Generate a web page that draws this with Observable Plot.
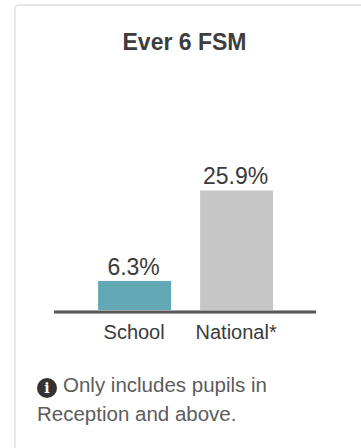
<!DOCTYPE html>
<html><head><meta charset="utf-8">
<script src="https://cdn.jsdelivr.net/npm/d3@7"></script>
<script src="https://cdn.jsdelivr.net/npm/@observablehq/plot@0.6"></script>
<style>
html,body{margin:0;padding:0;background:#fff;overflow:hidden;width:361px;height:448px;font-family:"Liberation Sans",Arial,sans-serif}
#card{position:absolute;left:14px;top:4px;width:420px;height:520px;border:2px solid #e7e7e7;border-radius:5px;box-sizing:border-box}
#title{position:absolute;left:4px;top:30px;width:361px;text-align:center;font-size:23px;font-weight:700;color:#3d3d3d;line-height:24px}
#plot{position:absolute;left:0;top:150px}
#note{position:absolute;left:37px;top:370px;width:290px;font-size:20.5px;line-height:29px;color:#5c5c5c;white-space:nowrap}
#note .i{display:inline-block;position:relative;top:-1px;width:20px;height:20px;border-radius:50%;background:#333;color:#fff;font:700 14px/20px "DejaVu Serif",serif;text-align:center;vertical-align:-2px;margin-right:6px}
svg text{font-family:"Liberation Sans",Arial,sans-serif}
</style></head><body>
<div id="card"></div>
<div id="title">Ever 6 FSM</div>
<div id="plot"></div>
<div id="note"><span class="i">i</span>Only includes pupils in<br>Reception and above.</div>
<script>
const categories = ["School", "National*"];
const values = [6.3, 25.9];
const colors = ["#62a8b5", "#c6c6c6"];
const valueLabels = ["6.3%", "25.9%"];
const rows = categories.map((c, i) => ({c, v: values[i], col: colors[i], label: valueLabels[i]}));
const chart = Plot.plot({
  width: 361, height: 205,
  marginLeft: 54, marginRight: 45, marginTop: 10, marginBottom: 45,
  x: {domain: categories, paddingInner: 0.284, paddingOuter: 0.4265, align: 0.507, round: false, label: null},
  y: {domain: [0, 32.5], axis: null},
  marks: [
    Plot.barY(rows, {x: "c", y: "v", fill: "col"}),
    Plot.text(rows, {x: "c", y: "v", text: "label", dy: -14, dx: -1.5, fontSize: 23, fill: "#3a3a3a"}),
    Plot.ruleY([0], {stroke: "#555", strokeWidth: 3, dy: 1.5}),
    Plot.axisX({tickSize: 0, tickPadding: 14, dx: -1, fontSize: 20, color: "#3a3a3a", label: null})
  ]
});
document.getElementById("plot").appendChild(chart);
</script>
</body></html>
